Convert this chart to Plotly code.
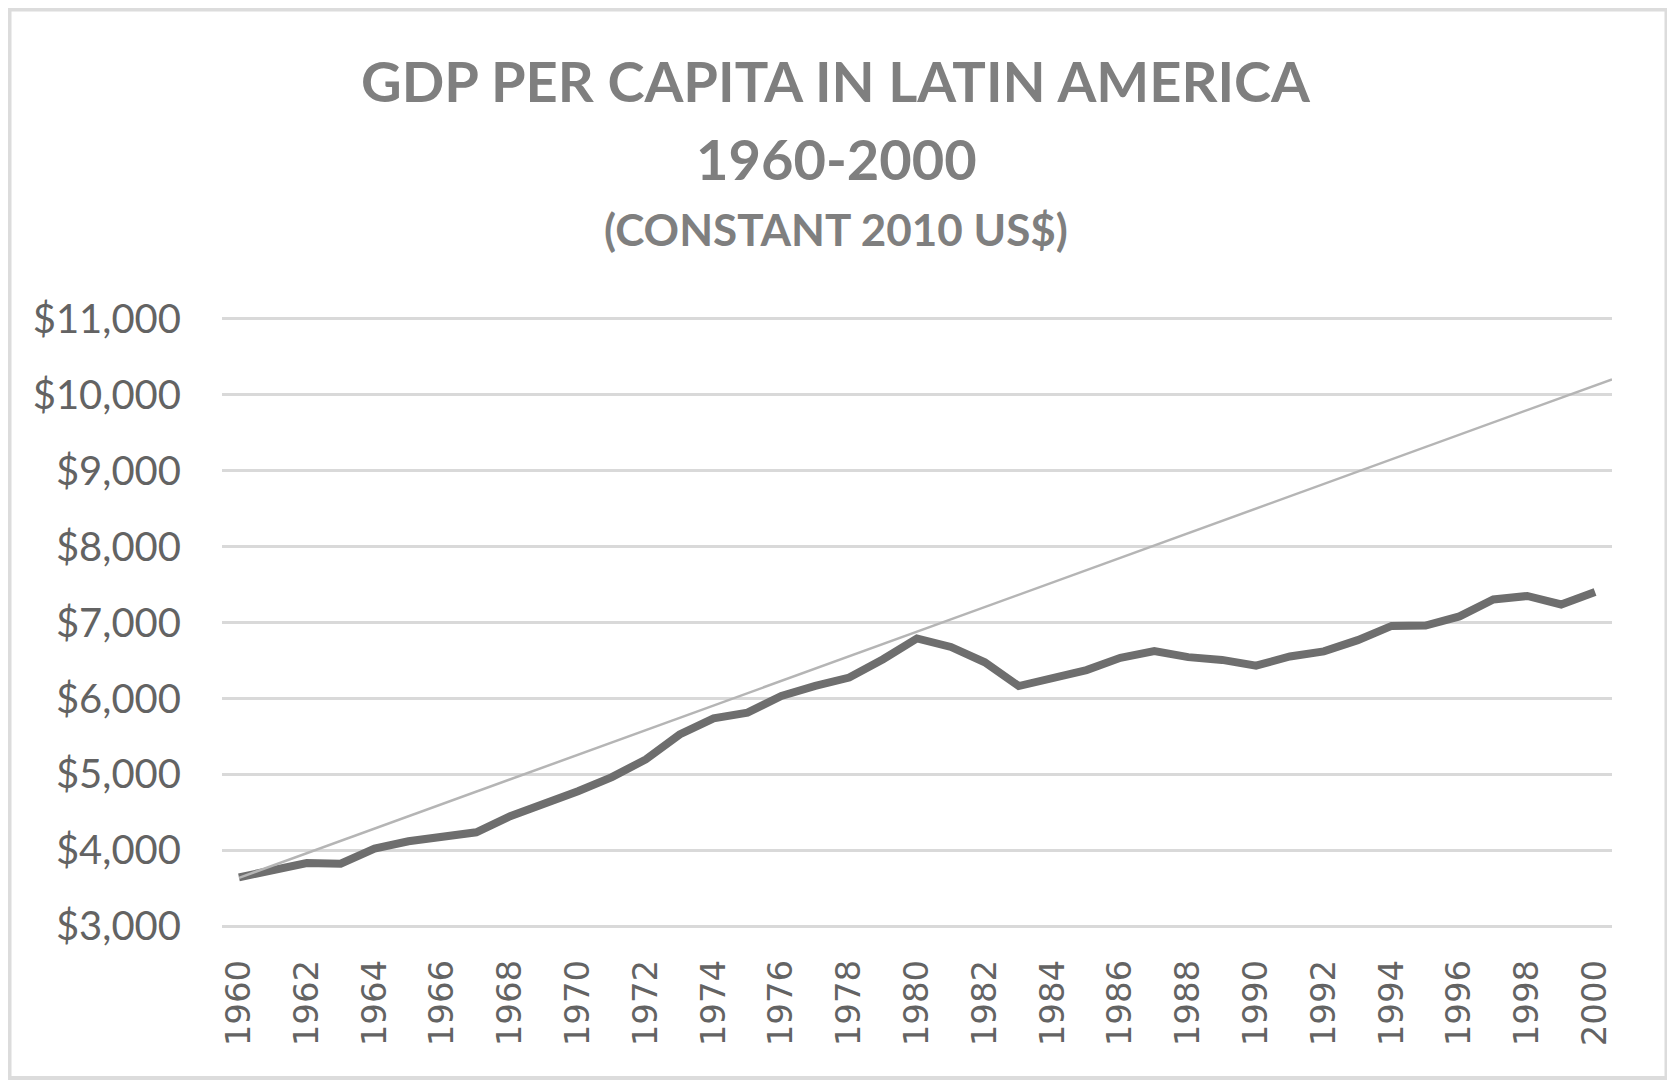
import plotly.graph_objects as go

# GDP per capita, Latin America (constant 2010 US$)
years = list(range(1960, 2001))
gdp = [3646, 3747, 3835, 3826, 4024, 4121, 4174, 4240, 4451, 4604,
       4780, 4965, 5198, 5527, 5738, 5813, 6033, 6165, 6275, 6516,
       6790, 6678, 6477, 6164, 6276, 6374, 6535, 6625, 6544, 6508,
       6432, 6553, 6620, 6768, 6955, 6960, 7080, 7304, 7349, 7237, 7402]

# straight trend line, from its two ends
trend_years = [1960, 2000.5]
trend_values = [3640, 10200]

tick_years = years[::2]
y_ticks = [3000, 4000, 5000, 6000, 7000, 8000, 9000, 10000, 11000]
title_lines = ["GDP PER CAPITA IN LATIN AMERICA", "1960-2000", "(CONSTANT 2010 US$)"]

# the page body has an 8px margin, so the figure starts at (8, 8) in the window
OFF = 8
W, H = 1675 - OFF, 1080 - OFF
L, R, T, B = 222 - OFF, 63, 309, 152
pw, ph = W - L - R, H - T - B


def px_x(x):
    # window pixel -> paper x
    return (x - OFF - L) / pw


def px_y(y):
    # window pixel -> paper y
    return (H - B - (y - OFF)) / ph


fig = go.Figure()

fig.add_trace(go.Scatter(
    x=years, y=gdp,
    mode="lines",
    line=dict(color="#6e6e6e", width=8),
    hoverinfo="x+y",
))

fig.add_trace(go.Scatter(
    x=trend_years, y=trend_values,
    mode="lines",
    line=dict(color="#b5b5b5", width=2.5),
    hoverinfo="skip",
))

annotations = []
for text, yc, size in zip(title_lines, [80, 159, 229], [56, 56, 44]):
    annotations.append(dict(
        text="<b>%s</b>" % text,
        xref="paper", yref="paper",
        x=px_x(836), y=px_y(yc),
        xanchor="center", yanchor="middle",
        showarrow=False,
        font=dict(family="Lato", size=size, color="#7f7f7f"),
    ))

shapes = [
    # light chart-area border
    dict(type="rect", xref="paper", yref="paper",
         x0=px_x(OFF + 1.5), x1=px_x(1666.5), y0=px_y(1078), y1=px_y(OFF + 1.5),
         line=dict(color="#dcdcdc", width=4), fillcolor="rgba(0,0,0,0)", layer="below"),
    # dark strip at the right edge of the picture
    dict(type="rect", xref="paper", yref="paper",
         x0=px_x(1669), x1=px_x(1680), y0=px_y(1090), y1=px_y(0),
         line=dict(width=0), fillcolor="black"),
]

fig.update_layout(
    width=W, height=H,
    margin=dict(l=L, r=R, t=T, b=B),
    paper_bgcolor="white",
    plot_bgcolor="white",
    showlegend=False,
    annotations=annotations,
    shapes=shapes,
    xaxis=dict(
        range=[1959.5, 2000.5],
        tickvals=tick_years,
        tickangle=-90,
        showgrid=False, zeroline=False, showline=False,
        ticks="",
        ticklabelstandoff=24,
        tickfont=dict(family="DejaVu Sans", size=34, color="#636363"),
    ),
    yaxis=dict(
        range=[2980, 11020],
        tickvals=y_ticks,
        tickformat="$,.0f",
        showgrid=True, gridcolor="#d9d9d9", gridwidth=2.5,
        zeroline=False, showline=False,
        ticks="",
        ticklabelstandoff=40,
        tickfont=dict(family="Lato", size=40, color="#636363"),
    ),
)

fig.write_html("out.html")
